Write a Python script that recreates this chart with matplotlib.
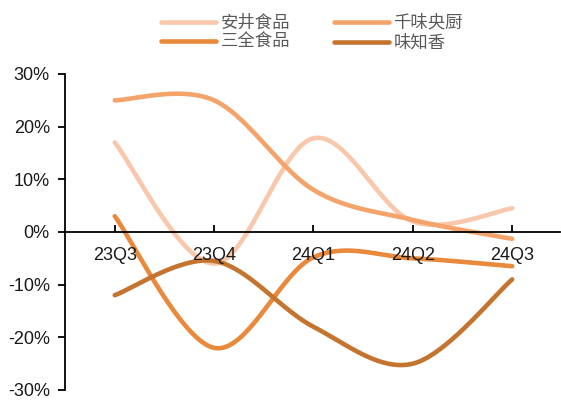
import numpy as np
import matplotlib
matplotlib.use("Agg")
import matplotlib.pyplot as plt
from matplotlib.ticker import FuncFormatter

plt.rcParams['font.family'] = ['Liberation Sans', 'Noto Sans CJK SC', 'DejaVu Sans']

# ------------------------------------------------------------------------------
# Data (YoY growth, %)
# ------------------------------------------------------------------------------
quarters = ["23Q3", "23Q4", "24Q1", "24Q2", "24Q3"]
anjoy = [17.0, -6.0, 17.8, 2.0, 4.5]        # 安井食品
qianwei = [25.0, 25.0, 8.0, 2.3, -1.3]      # 千味央厨
sanquan = [3.0, -22.0, -4.8, -5.0, -6.5]    # 三全食品
weizhixiang = [-12.0, -5.5, -18.0, -25.0, -9.0]  # 味知香

series = [
    ("安井食品", anjoy, "#F9C8AC"),
    ("三全食品", sanquan, "#E8893B"),
    ("千味央厨", qianwei, "#F4A46B"),
    ("味知香", weizhixiang, "#C5742F"),
]


def smooth(xs, ys, n=40):
    """Catmull-Rom curve through the points (like a spreadsheet 'smoothed line')."""
    xs = np.asarray(xs, float); ys = np.asarray(ys, float)
    px = np.concatenate([[xs[0]], xs, [xs[-1]]])
    py = np.concatenate([[ys[0]], ys, [ys[-1]]])
    outx, outy = [], []
    t = np.linspace(0, 1, n)
    for i in range(1, len(px) - 2):
        for p, out in ((px, outx), (py, outy)):
            p0, p1, p2, p3 = p[i - 1], p[i], p[i + 1], p[i + 2]
            out.extend(0.5 * ((2 * p1) + (-p0 + p2) * t
                              + (2 * p0 - 5 * p1 + 4 * p2 - p3) * t ** 2
                              + (-p0 + 3 * p1 - 3 * p2 + p3) * t ** 3))
    return np.array(outx), np.array(outy)


fig = plt.figure(figsize=(5.61, 4.0), dpi=100)
ax = fig.add_axes([0.116, 0.025, 0.882, 0.79])

x = np.arange(len(quarters))
for name, vals, col in series:
    sx, sy = smooth(x, vals)
    ax.plot(sx, sy, color=col, lw=3.3, solid_capstyle="round", label=name, zorder=2)

ax.set_xlim(-0.5, 4.48)
ax.set_ylim(-30, 30)
ax.set_yticks(np.arange(-30, 31, 10))
ax.yaxis.set_major_formatter(FuncFormatter(lambda v, _: f"{v:.0f}%"))
ax.set_xticks(x)
ax.set_xticklabels(quarters)

for s in ["top", "right"]:
    ax.spines[s].set_visible(False)
ax.spines["bottom"].set_position(("data", 0))
ax.spines["bottom"].set_zorder(3)
ax.xaxis.set_zorder(3)
ax.spines["left"].set_linewidth(1.3)
ax.spines["bottom"].set_linewidth(1.3)

ax.tick_params(axis="y", direction="out", length=5, width=1.3, labelsize=13, pad=6,
               labelcolor="#1a1a1a")
ax.tick_params(axis="x", direction="in", length=5, width=1.3, labelsize=13, pad=11,
               labelcolor="#1a1a1a")

leg = fig.legend(*ax.get_legend_handles_labels(), loc="center",
                 bbox_to_anchor=(0.556, 1 - 32.5 / 400), ncol=2, frameon=False,
                 fontsize=12.5, handlelength=3.2, columnspacing=2.5, labelspacing=0.2,
                 handletextpad=0.25, borderpad=0)
for t in leg.get_texts():
    t.set_color("#595959")

fig.savefig("out.png", dpi=100)
